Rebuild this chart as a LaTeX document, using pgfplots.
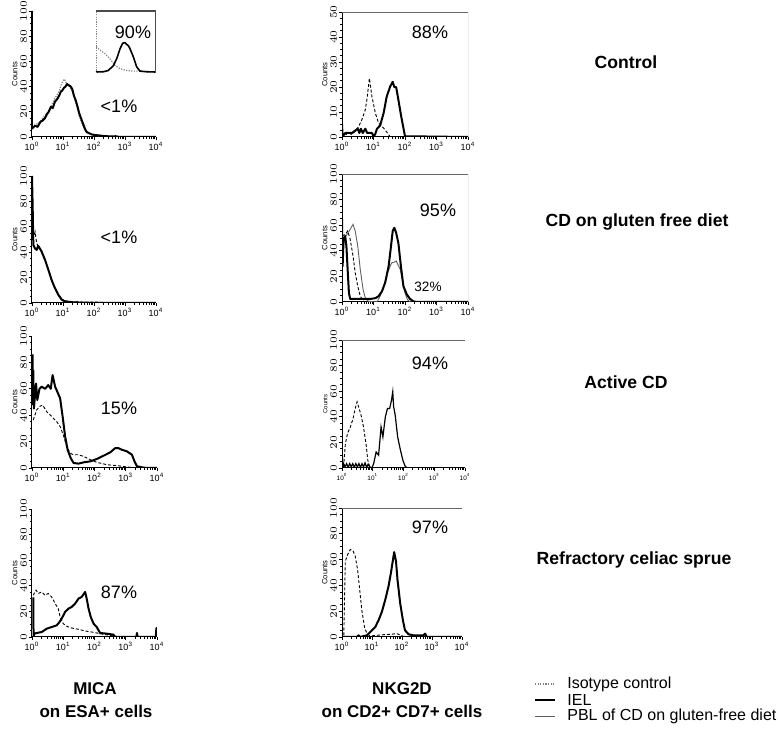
\documentclass[border=0pt]{standalone}
\usepackage{fontspec}
\setmainfont{Liberation Sans}
\usepackage{pgfplots}
\pgfplotsset{compat=1.18}

% log10 positions of the minor ticks 2..9 in each decade
\def\minorlog{0.301,0.477,0.602,0.699,0.778,0.845,0.903,0.954,
 1.301,1.477,1.602,1.699,1.778,1.845,1.903,1.954,
 2.301,2.477,2.602,2.699,2.778,2.845,2.903,2.954,
 3.301,3.477,3.602,3.699,3.778,3.845,3.903,3.954}

\tikzset{
  iel/.style={black, line width=1pt, line join=round},
  iso/.style={black, line width=0.45pt, dash pattern=on 1.5pt off 1pt},
  isodot/.style={gray, line width=0.6pt, dash pattern=on 0.6pt off 0.7pt},
  pbl/.style={gray!75!black, line width=0.45pt},
}
\pgfplotsset{
  facs/.style={scale only axis, anchor=south west,
    xmin=0, xmax=4, ymin=0, ymax=100,
    axis x line*=bottom, axis y line*=left,
    axis line style={-, line width=0.5pt},
    tick align=outside, major tick length=1.6pt, minor tick length=0.9pt,
    tick style={line width=0.3pt, black},
    xtick={0,1,2,3,4},
    xticklabels={10\textsuperscript{0},10\textsuperscript{1},10\textsuperscript{2},10\textsuperscript{3},10\textsuperscript{4}},
    minor xtick=\minorlog,
    ytick={0,20,...,100}, minor y tick num=3,
    xticklabel style={font=\fontsize{4.5}{5}\selectfont, inner sep=0.8pt},
    yticklabel style={font=\fontsize{3.6}{4}\selectfont, rotate=90, anchor=south, inner sep=0.8pt},
    ylabel={Counts}, ylabel style={font=\fontsize{3.8}{4}\selectfont, inner sep=0.5pt},
  },
}
\newcommand{\rightedge}{\draw[line width=0.4pt] (rel axis cs:1,0) -- (rel axis cs:1,1);}
\newcommand{\topright}{\draw[gray!80!black, line width=0.4pt] (rel axis cs:0,1) -- (rel axis cs:1,1) -- (rel axis cs:1,0);}

\begin{document}
\begin{tikzpicture}
\useasboundingbox (0,0) rectangle (389pt,364.5pt);

% ---------- Control ----------
\begin{axis}[facs, at={(16pt,296pt)}, width=62pt, height=63pt]
\addplot[isodot] coordinates {(0,8) (0.13,10) (0.26,12) (0.4,17) (0.49,19) (0.61,24) (0.72,30) (0.82,34) (0.87,36) (0.92,40) (0.97,43) (1.04,46) (1.12,42) (1.22,40) (1.32,35) (1.42,27) (1.52,17) (1.62,10) (1.72,5) (1.92,2) (2.2,1) (2.5,0.5) (2.9,0) (4,0)};
\addplot[iel] coordinates {(0,100) (0,6.6) (0.1,9) (0.18,8) (0.27,12) (0.34,13) (0.42,15) (0.48,18) (0.54,20) (0.61,24) (0.67,23) (0.74,28) (0.81,30) (0.88,33) (0.93,36) (0.98,37) (1.03,39) (1.08,40) (1.13,42) (1.19,41) (1.25,40) (1.3,38) (1.35,33) (1.41,29) (1.47,24) (1.52,19) (1.58,15) (1.64,11) (1.7,7) (1.76,4) (1.84,3) (1.93,2) (2.05,1.5) (2.15,1.3) (2.3,0.8) (2.5,0.5) (2.7,0.6) (2.84,0) (4,0)};
\rightedge
\end{axis}
\begin{axis}[scale only axis, anchor=south west, at={(48pt,328pt)}, width=30pt, height=31pt,
  xmin=0, xmax=4, ymin=0, ymax=100, xtick=\empty, ytick=\empty, axis line style={draw=none}]
\addplot[isodot] coordinates {(0,42) (0.27,37) (0.6,31) (0.93,23) (1.27,12) (1.6,7) (2.04,4) (2.49,3) (2.93,3) (3.38,2) (4,1.6)};
\addplot[iel, line width=0.8pt] coordinates {(0,1.6) (0.49,2) (0.82,4) (1.16,12) (1.38,23) (1.6,39) (1.78,48) (1.93,49) (2.05,46) (2.16,44) (2.27,39) (2.49,26) (2.71,10) (2.93,3) (3.38,2) (4,1.6)};
\draw[gray, line width=0.4pt, dash pattern=on 0.6pt off 0.6pt] (rel axis cs:0,0) -- (rel axis cs:0,1);
\draw[gray!60!black, line width=0.9pt] (rel axis cs:0,1) -- (rel axis cs:1,1) -- (rel axis cs:1,0);
\draw[gray!70!black, line width=0.4pt] (rel axis cs:0,0) -- (rel axis cs:1,0);
\end{axis}

\begin{axis}[facs, at={(171pt,296pt)}, width=63pt, height=62.5pt, ymax=50, ytick={0,10,...,50}]
\addplot[iso] coordinates {(0,1.5) (0.1,0.5) (0.2,2) (0.3,1) (0.42,2.3) (0.53,4.2) (0.63,6.9) (0.74,10.9) (0.79,14.9) (0.87,23.5) (0.95,16.2) (1.06,9.5) (1.16,5.6) (1.32,3.6) (1.48,1) (1.53,0) (4,0)};
\addplot[iel] coordinates {(0,5) (0.02,0.3) (0.106,1.6) (0.26,1.6) (0.32,1.6) (0.5,3.3) (0.55,1.6) (0.6,3.3) (0.66,1.6) (0.74,3.3) (0.8,1.6) (0.95,1.6) (1.0,0.3) (1.05,1) (1.11,3.3) (1.21,4.6) (1.32,9.5) (1.42,16.2) (1.53,20.2) (1.61,22.1) (1.66,20) (1.72,19.9) (1.79,14.9) (1.88,8.2) (1.95,3.6) (2.0,0.3) (4,0)};
\topright
\end{axis}

% ---------- CD on gluten free diet ----------
\begin{axis}[facs, at={(16pt,213pt)}, width=62pt, height=63.5pt]
\addplot[iso] coordinates {(0.03,50) (0.1,56) (0.15,47) (0.25,43) (0.35,38) (0.45,32) (0.55,25) (0.65,17) (0.75,11) (0.85,6) (0.95,3) (1.1,1.5) (1.4,1) (1.7,0.5) (2.0,0.8) (2.4,0.3) (3,0) (4,0)};
\addplot[iel] coordinates {(0,100) (0.02,78) (0.043,45.7) (0.097,43) (0.15,41.8) (0.2,45) (0.237,43.6) (0.31,40.5) (0.42,34) (0.53,26) (0.63,18.3) (0.74,11.7) (0.85,6.5) (0.96,2.6) (1.06,1.3) (1.33,0.5) (1.66,0.3) (2.19,0) (4,0)};
\rightedge
\end{axis}

\begin{axis}[facs, at={(171pt,213.5pt)}, width=63pt, height=64pt]
\addplot[iso] coordinates {(0,51.6) (0.11,53) (0.18,55.5) (0.26,49) (0.35,36) (0.42,22.8) (0.5,12.3) (0.58,4.5) (0.69,0.5) (0.8,0) (4,0)};
\addplot[pbl] coordinates {(0,28) (0.07,49) (0.16,52.9) (0.26,56.8) (0.35,60.7) (0.42,55.5) (0.5,43.7) (0.58,25.4) (0.67,9.7) (0.74,3.1) (0.84,0.5) (1.11,0) (1.21,4.5) (1.32,12.3) (1.43,21.5) (1.53,28) (1.58,30.6) (1.66,31.2) (1.72,32) (1.76,30) (1.85,25.4) (1.93,15) (2.0,7) (2.08,1.8) (2.16,0) (4,0)};
\addplot[iel] coordinates {(0,64.7) (0.02,28) (0.05,49) (0.1,51.6) (0.14,43.7) (0.18,25) (0.22,7) (0.26,2.4) (0.6,2.4) (0.9,2.4) (1.06,3) (1.16,4.5) (1.27,8.4) (1.37,15) (1.48,28) (1.55,42.4) (1.61,55.5) (1.66,58) (1.72,54) (1.79,46) (1.87,28) (1.95,12.3) (2.06,5.8) (2.16,2.4) (2.27,0.5) (2.37,0) (4,0)};
\topright
\end{axis}

% ---------- Active CD ----------
\begin{axis}[facs, at={(16pt,130.5pt)}, width=62.5pt, height=66pt]
\addplot[iso] coordinates {(0.04,36.4) (0.15,44) (0.24,46.5) (0.34,47.7) (0.47,42.7) (0.58,40.2) (0.68,37.7) (0.79,35.2) (0.9,31.4) (1.0,25.1) (1.11,16.3) (1.22,11.3) (1.33,10) (1.49,10) (1.65,8.8) (1.86,6.3) (2.07,4.3) (2.4,2.5) (2.72,1.8) (3.04,0.8) (3.36,0) (4,0)};
\addplot[iel] coordinates {(0.02,86) (0.03,48) (0.04,74) (0.06,45) (0.13,64) (0.17,51.5) (0.24,60) (0.31,61.6) (0.42,60) (0.52,62.8) (0.6,60) (0.66,70.4) (0.74,61.6) (0.81,57.8) (0.9,52.8) (0.98,39) (1.06,23.9) (1.14,13.8) (1.24,7.5) (1.33,3.8) (1.49,3.3) (1.65,4.3) (1.86,5) (2.07,6.8) (2.29,9.3) (2.5,11.8) (2.66,15) (2.77,15) (2.88,13.8) (3.04,12.6) (3.2,10) (3.28,5) (3.36,1.3) (3.52,0.5) (3.68,0) (4,0)};
\rightedge
\end{axis}

\begin{axis}[facs, at={(171pt,130.5pt)}, width=61.5pt, height=64pt,
  xticklabel style={font=\fontsize{3.2}{4}\selectfont}, yticklabel style={font=\fontsize{3}{3.5}\selectfont},
  ylabel style={font=\fontsize{3}{3.5}\selectfont}]
\addplot[iso] coordinates {(0.05,0.8) (0.11,19) (0.18,27) (0.27,32) (0.36,38.6) (0.43,46.5) (0.49,51.7) (0.54,47.8) (0.62,41.3) (0.7,32) (0.78,19) (0.84,6) (0.9,0.8) (0.97,0) (4,0)};
\addplot[black, line width=0.6pt] coordinates {(0,24.3) (0.02,0.8) (0.05,3.4) (0.1,1) (0.15,3.4) (0.2,0.5) (0.25,3.4) (0.3,1) (0.35,3.4) (0.4,0.5) (0.45,3.4) (0.5,1) (0.55,3.4) (0.6,0.5) (0.65,3.4) (0.7,1) (0.75,4) (0.8,0.5) (0.85,3) (0.9,1) (0.97,0) (1.03,3.4) (1.11,12.5) (1.19,10) (1.27,32) (1.33,24.3) (1.41,40) (1.48,46.5) (1.55,46.5) (1.61,53) (1.65,59.5) (1.68,47.8) (1.73,41.3) (1.81,24.3) (1.89,15.1) (1.98,6) (2.05,1.6) (2.11,0) (4,0)};
\topright
\end{axis}

% ---------- Refractory celiac sprue ----------
\begin{axis}[facs, at={(16pt,46pt)}, width=62.5pt, height=64pt]
\addplot[iso] coordinates {(0.04,32.6) (0.13,36.6) (0.2,34) (0.31,35.2) (0.42,32.6) (0.52,34) (0.63,31.3) (0.74,26.1) (0.84,22.2) (0.9,15.7) (1.0,10.4) (1.11,8.4) (1.27,7) (1.49,6) (1.7,4.7) (1.91,3.9) (2.18,2.6) (2.5,1.3) (2.82,0) (4,0)};
\addplot[iel] coordinates {(0.04,31) (0.05,0) (0.07,2.6) (0.15,3.1) (0.31,3.9) (0.47,6.5) (0.63,7.8) (0.79,9.1) (0.88,11.7) (0.95,14.4) (1.06,19.6) (1.17,22.2) (1.27,23.5) (1.38,26.1) (1.49,30) (1.59,31.3) (1.7,35.2) (1.75,30) (1.81,22.2) (1.88,15.7) (1.97,10.4) (2.07,7.8) (2.18,3.1) (2.4,2.6) (2.61,1.8) (2.66,0) (3.34,0) (3.36,3.1) (3.38,0) (3.96,0) (3.98,7) (4,0)};
\rightedge
\end{axis}

\begin{axis}[facs, at={(171pt,46pt)}, width=60pt, height=64.5pt]
\addplot[iso] coordinates {(0.06,1.3) (0.11,58.7) (0.19,64) (0.28,67.9) (0.37,66.6) (0.44,62.7) (0.52,52.2) (0.59,36.6) (0.66,20.9) (0.75,7.8) (0.83,2.6) (0.94,0.8) (1.16,1.3) (1.39,1.8) (1.61,2.1) (1.83,2.6) (2.05,0.5) (2.27,0) (4,0)};
\addplot[iel] coordinates {(0,0) (0.5,0) (0.55,1.3) (0.6,0) (0.83,1.3) (0.94,3.9) (1.11,7.8) (1.22,13) (1.33,19.6) (1.44,28.7) (1.55,39.2) (1.63,49.6) (1.7,60) (1.74,65.8) (1.8,58.7) (1.85,44.4) (1.94,26.1) (2.03,13) (2.1,5.2) (2.22,2.1) (2.38,1.3) (2.71,1.3) (2.77,2.6) (2.83,0) (4,0)};
\topright
\end{axis}

% percentages
\begin{scope}[every node/.style={font=\fontsize{9}{10}\selectfont, inner sep=0pt}]
\node at (66.5pt,348.5pt) {90\%};
\node at (59.5pt,311.5pt) {<1\%};
\node at (215pt,348.5pt) {88\%};
\node at (59.5pt,246pt) {<1\%};
\node at (219pt,259.5pt) {95\%};
\node[font=\fontsize{6.8}{8}\selectfont] at (214pt,221pt) {32\%};
\node at (59.5pt,160.5pt) {15\%};
\node at (215pt,183pt) {94\%};
\node at (59.5pt,68.5pt) {87\%};
\node at (215pt,101pt) {97\%};
\end{scope}

% row labels
\begin{scope}[every node/.style={font=\bfseries\fontsize{8.8}{10}\selectfont, inner sep=0pt}]
\node at (313pt,333.5pt) {Control};
\node at (318.5pt,253.5pt) {CD on gluten free diet};
\node at (313pt,173.5pt) {Active CD};
\node at (317pt,84.5pt) {Refractory celiac sprue};
\end{scope}
\begin{scope}[every node/.style={font=\bfseries\fontsize{8.5}{10}\selectfont, inner sep=0pt}]
\node at (47.5pt,20pt) {MICA};
\node at (48pt,9pt) {on ESA+ cells};
\node at (201pt,20pt) {NKG2D};
\node at (201pt,9pt) {on CD2+ CD7+ cells};
\end{scope}

% legend
\draw[isodot, line width=0.8pt] (267.5pt,22.5pt) -- (277.5pt,22.5pt);
\draw[iel] (267.5pt,14.5pt) -- (277.5pt,14.5pt);
\draw[pbl] (267.5pt,6.5pt) -- (277.5pt,6.5pt);
\begin{scope}[every node/.style={font=\fontsize{8}{9}\selectfont, inner sep=0pt, anchor=west}]
\node at (283.5pt,22.5pt) {Isotype control};
\node at (283.5pt,14.5pt) {IEL};
\node at (283.5pt,6.5pt) {PBL of CD on gluten-free diet};
\end{scope}
\end{tikzpicture}
\end{document}
